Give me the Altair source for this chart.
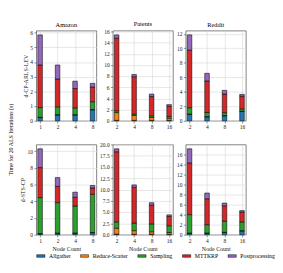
import altair as alt
import pandas as pd

components = ["Allgather", "Reduce-Scatter", "Sampling", "MTTKRP", "Postprocessing"]
colors = ["#1f77b4", "#ff7f0e", "#2ca02c", "#d62728", "#9467bd"]

datasets = ["Amazon", "Patents", "Reddit"]
methods = ["d-CP-ARLS-LEV", "d-STS-CP"]

nodes_amazon = ["1", "2", "4", "8"]
nodes_other = ["2", "4", "8", "16"]

# segment values per component (Allgather, Reduce-Scatter, Sampling, MTTKRP, Postprocessing)
amazon_lev = [[0.22, 0.4, 0.4, 0.75], [0.02, 0.02, 0.02, 0.02], [0.66, 0.53, 0.46, 0.53],
              [2.9, 1.9, 1.32, 1.0], [2.05, 0.95, 0.5, 0.25]]
patents_lev = [[0.08, 0.08, 0.08, 0.08], [1.39, 0.87, 0.52, 0.37], [0.33, 0.25, 0.3, 0.35],
               [13.0, 6.7, 3.45, 1.8], [0.6, 0.4, 0.45, 0.3]]
reddit_lev = [[0.9, 0.55, 0.7, 1.3], [0.03, 0.03, 0.03, 0.03], [0.87, 0.57, 0.39, 0.32],
              [7.95, 4.35, 2.58, 1.75], [2.1, 1.05, 0.5, 0.25]]
amazon_sts = [[0.12, 0.18, 0.18, 0.25], [0.02, 0.02, 0.02, 0.02], [4.31, 3.65, 3.25, 4.58],
              [3.6, 1.95, 1.05, 0.75], [2.25, 1.05, 0.6, 0.3]]
patents_sts = [[0.15, 0.1, 0.1, 0.1], [1.3, 0.8, 0.55, 0.4], [1.4, 1.7, 1.75, 1.5],
               [15.55, 7.9, 4.15, 2.05], [0.65, 0.55, 0.55, 0.35]]
reddit_sts = [[0.3, 0.3, 0.45, 0.7], [0.03, 0.03, 0.03, 0.12], [3.67, 1.67, 2.22, 1.73],
              [10.3, 5.15, 3.05, 1.95], [2.8, 1.15, 0.55, 0.3]]

y_ticks = {
    ("Amazon", "d-CP-ARLS-LEV"): ([0, 1, 2, 3, 4, 5, 6], "d"),
    ("Patents", "d-CP-ARLS-LEV"): ([0, 2, 4, 6, 8, 10, 12, 14, 16], "d"),
    ("Reddit", "d-CP-ARLS-LEV"): ([0, 2, 4, 6, 8, 10, 12], "d"),
    ("Amazon", "d-STS-CP"): ([0, 2, 4, 6, 8, 10], "d"),
    ("Patents", "d-STS-CP"): ([0, 2.5, 5, 7.5, 10, 12.5, 15, 17.5, 20], ".1f"),
    ("Reddit", "d-STS-CP"): ([0, 2, 4, 6, 8, 10, 12, 14, 16], "d"),
}

table = {
    ("Amazon", "d-CP-ARLS-LEV"): amazon_lev,
    ("Patents", "d-CP-ARLS-LEV"): patents_lev,
    ("Reddit", "d-CP-ARLS-LEV"): reddit_lev,
    ("Amazon", "d-STS-CP"): amazon_sts,
    ("Patents", "d-STS-CP"): patents_sts,
    ("Reddit", "d-STS-CP"): reddit_sts,
}

FONT = "Liberation Serif"
W, H = 66, 99


def panel(ds, method):
    nodes = nodes_amazon if ds == "Amazon" else nodes_other
    segs = table[(ds, method)]
    rows = []
    for ci, comp in enumerate(components):
        for ni, nd in enumerate(nodes):
            rows.append({"node": nd, "component": comp, "ord": ci, "value": segs[ci][ni]})
    df = pd.DataFrame(rows)
    totals = [sum(segs[c][i] for c in range(len(components))) for i in range(len(nodes))]
    ymax = max(totals) * 1.05
    ticks, fmt = y_ticks[(ds, method)]
    bottom = method == methods[-1]
    first = ds == datasets[0]
    xaxis = alt.Axis(title="Node Count" if bottom else None, labelAngle=0, grid=True)
    yaxis_kw = dict(values=ticks, format=fmt, grid=True)
    yaxis_kw["title"] = method if first else None
    ch = alt.Chart(df).mark_bar(size=5, stroke="black", strokeWidth=0.6).encode(
        x=alt.X("node:O", sort=nodes, scale=alt.Scale(type="point", padding=0.22), axis=xaxis),
        y=alt.Y("value:Q", stack="zero", scale=alt.Scale(domain=[0, ymax], nice=False),
                axis=alt.Axis(**yaxis_kw)),
        color=alt.Color("component:N", scale=alt.Scale(domain=components, range=colors),
                        legend=alt.Legend(title=None, orient="none", direction="horizontal",
                                          legendX=0, legendY=2 * H + 44,
                                          symbolType="M-1,-0.32H1V0.32H-1Z", symbolSize=81,
                                          symbolStrokeColor="black", symbolStrokeWidth=0.5,
                                          labelFontSize=6.3, labelFont=FONT, columnPadding=9,
                                          labelOffset=4, symbolOffset=0)),
        order=alt.Order("ord:Q"),
    ).properties(width=W, height=H)
    if not bottom:
        ch = ch.properties(title=alt.TitleParams(ds, fontSize=7, font=FONT, fontWeight="normal",
                                                 offset=2.5, frame="group"))
    return ch


charts = [panel(ds, m) for m in methods for ds in datasets]

chart = alt.concat(*charts, columns=3, spacing={"row": 11, "column": 2}).properties(
    title=alt.TitleParams("Time for 20 ALS Iterations (s)", orient="left", anchor="middle",
                          fontSize=6.5, font=FONT, fontWeight="normal", offset=6)
).configure(padding=0).configure_view(
    stroke="#555", strokeWidth=0.8
).configure_axis(
    labelFont=FONT, titleFont=FONT, labelFontSize=6, titleFontSize=6.5,
    titleFontWeight="normal", gridColor="#d9d9d9", gridWidth=0.7, domain=False,
    tickSize=2.5, tickWidth=0.6, tickColor="#333", labelColor="#222", titleColor="#222",
    labelPadding=1.5, titlePadding=2
)

chart.save("out.html", embed_options={"renderer": "svg", "actions": False})
